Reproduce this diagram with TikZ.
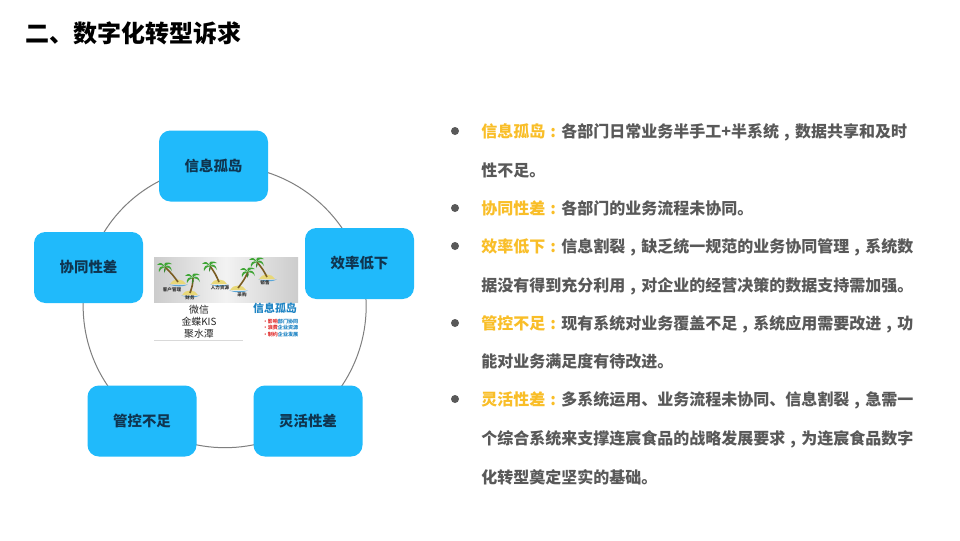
\documentclass[tikz,border=0pt]{standalone}
\usepackage{fontspec}
\setmainfont{Noto Sans CJK SC}
\usetikzlibrary{backgrounds}
\definecolor{bodygray}{HTML}{595959}
\definecolor{gold}{HTML}{F9BE28}
\definecolor{boxblue}{HTML}{20BAFB}
\definecolor{boxtext}{HTML}{0F3550}
\definecolor{ringgray}{HTML}{7F7F7F}
\definecolor{imgblue}{HTML}{1E84C4}
\definecolor{imgred}{HTML}{E03030}
\definecolor{trunk}{HTML}{7A5C22}
\definecolor{frond}{HTML}{3FA535}
\definecolor{sand}{HTML}{E8D878}
\definecolor{sea}{HTML}{5AA6D8}
\newcommand{\cma}{\makebox[1em][c]{,}}
\newcommand{\cln}{\makebox[1em][c]{:}}
\tikzset{
  box/.style={fill=boxblue,rounded corners=8.5pt,minimum width=81.75pt,minimum height=53.25pt,inner sep=0pt,text=boxtext,font=\bfseries\fontsize{10.8}{12}\selectfont},
  ring/.style={draw=ringgray,line width=0.75pt},
  line/.style={anchor=west,inner sep=0pt,text=bodygray,font=\bfseries\fontsize{12}{14}\selectfont,text height=10.5pt,text depth=1.5pt},
  dot/.style={circle,fill=bodygray,minimum size=6pt,inner sep=0pt},
  tiny/.style={inner sep=0pt,text=black!80,font=\bfseries\fontsize{3.4}{4}\selectfont},
  small/.style={inner sep=0pt,text=black!85,font=\fontsize{7.4}{9}\selectfont},
  micro/.style={anchor=west,inner sep=0pt,text=imgblue,font=\bfseries\fontsize{3.8}{5}\selectfont},
}
% crown x, crown y, base x, base y
\newcommand{\palm}[4]{%
  \fill[sea] (#3-9,#4+2.5) .. controls (#3-2,#4+5) and (#3+5,#4+5) .. (#3+10,#4+2.5) .. controls (#3+3,#4+3.5) and (#3-3,#4+3.5) .. cycle;
  \fill[sand] (#3-8,#4+2) .. controls (#3-5,#4-4) and (#3+5,#4-4) .. (#3+8,#4+2) -- cycle;
  \draw[trunk,line width=1.2pt] (#3,#4) .. controls ({(#1+#3)/2+1},{(#2+#4)/2}) .. (#1,#2);
  \fill[frond] (#1,#2) .. controls (#1-3,#2-5) and (#1+3,#2-6) .. (#1+7,#2-3) .. controls (#1+4,#2-4) and (#1+2,#2-3) .. cycle;
  \fill[frond] (#1,#2) .. controls (#1+3,#2-3) and (#1+6,#2-1) .. (#1+7,#2+4) .. controls (#1+5,#2+1) and (#1+3,#2) .. cycle;
  \fill[frond] (#1,#2) .. controls (#1-3,#2-5) and (#1-5,#2-5) .. (#1-8,#2-2) .. controls (#1-5,#2-3) and (#1-3,#2-2) .. cycle;
  \fill[frond] (#1,#2) .. controls (#1-4,#2-2) and (#1-7,#2+1) .. (#1-6,#2+5) .. controls (#1-5,#2+2) and (#1-3,#2+1) .. cycle;
  \fill[frond!80!black] (#1,#2) .. controls (#1-1,#2+2) and (#1-1,#2+3) .. (#1-1,#2+6) .. controls (#1+1,#2+3) and (#1+1,#2+2) .. cycle;
}
\begin{document}
\begin{tikzpicture}[x=0.75pt,y=-0.75pt]
\useasboundingbox (0,0) rectangle (960,540);
% title
\node[anchor=west,inner sep=0pt,text=black,font=\bfseries\fontsize{18}{20}\selectfont] (title) at (25,33) {二、数字化转型诉求};
% ring nodes
\node[box] (xx) at (213.5,166) {信息孤岛};
\node[box] (xl) at (359.5,263.5) {效率低下};
\node[box] (gk) at (142,421) {管控不足};
\node[box] (lh) at (308,421) {灵活性差};
\node[box] (xt) at (88.5,267.5) {协同性差};
\begin{pgfonlayer}{background}
\fill[white] (0,0) rectangle (960,540);
\draw[ring] (xx.center) to[bend left=38.3,looseness=.94] (xl.center);
\draw[ring] (xl.center) to[bend left=35.8,looseness=.94] (lh.center);
\draw[ring] (lh.center) to[bend left=35.8,looseness=.94] (gk.center);
\draw[ring] (gk.center) to[bend left=34.9,looseness=.94] (xt.center);
\draw[ring] (xt.center) to[bend left=35,looseness=.94] (xx.center);
\end{pgfonlayer}
% central image
\path[left color=black!20,right color=black!5] (154,257) rectangle (226,302);
\path[left color=black!5,right color=black!20] (226,257) rectangle (298,302);
\palm{165}{267}{178}{282}
\palm{193}{278}{190}{293}
\palm{210}{266}{219}{282}
\palm{248}{272}{238}{288}
\palm{257}{262}{267}{277}
\node[tiny] (t1) at (172,290) {客户管理};
\node[tiny] (t2) at (190,298) {财务};
\node[tiny] (t3) at (220,288) {人力资源};
\node[tiny] (t4) at (242,295) {采购};
\node[tiny] (t5) at (265,283) {销售};
\node[small] (wx) at (199,310) {微信};
\node[small] (jd) at (199,322) {金蝶KIS};
\node[small] (js) at (199,333.5) {聚水潭};
\draw[black!15,line width=0.75pt] (154,340) -- (243,340);
\node[anchor=center,inner sep=0pt,text=imgblue,font=\bfseries\fontsize{8.2}{9}\selectfont] (gd) at (275,308) {信息孤岛};
\node[micro] (m1) at (262.5,321.5) {\textcolor{imgred}{·影响}部门协同};
\node[micro] (m2) at (262.5,328) {\textcolor{imgred}{·浪费}企业资源};
\node[micro] (m3) at (262.5,334.5) {\textcolor{imgred}{·制约}企业发展};
% bullets
\foreach \n/\y in {a/131,b/208,c/246,d/323,e/399} \node[dot] (b\n) at (455,\y) {};
% text
\node[line] (l1) at (481,131) {\textcolor{gold}{信息孤岛\cln}各部门日常业务半手工+半系统\cma 数据共享和及时};
\node[line] (l2) at (481,170) {性不足。};
\node[line] (l3) at (481,208) {\textcolor{gold}{协同性差\cln}各部门的业务流程未协同。};
\node[line] (l4) at (481,246) {\textcolor{gold}{效率低下\cln}信息割裂\cma 缺乏统一规范的业务协同管理\cma 系统数};
\node[line] (l5) at (481,285) {据没有得到充分利用\cma 对企业的经营决策的数据支持需加强。};
\node[line] (l6) at (481,323) {\textcolor{gold}{管控不足\cln}现有系统对业务覆盖不足\cma 系统应用需要改进\cma 功};
\node[line] (l7) at (481,361) {能对业务满足度有待改进。};
\node[line] (l8) at (481,399) {\textcolor{gold}{灵活性差\cln}多系统运用、业务流程未协同、信息割裂\cma 急需一};
\node[line] (l9) at (481,438) {个综合系统来支撑连宸食品的战略发展要求\cma 为连宸食品数字};
\node[line] (l10) at (481,477) {化转型奠定坚实的基础。};
\end{tikzpicture}
\end{document}
